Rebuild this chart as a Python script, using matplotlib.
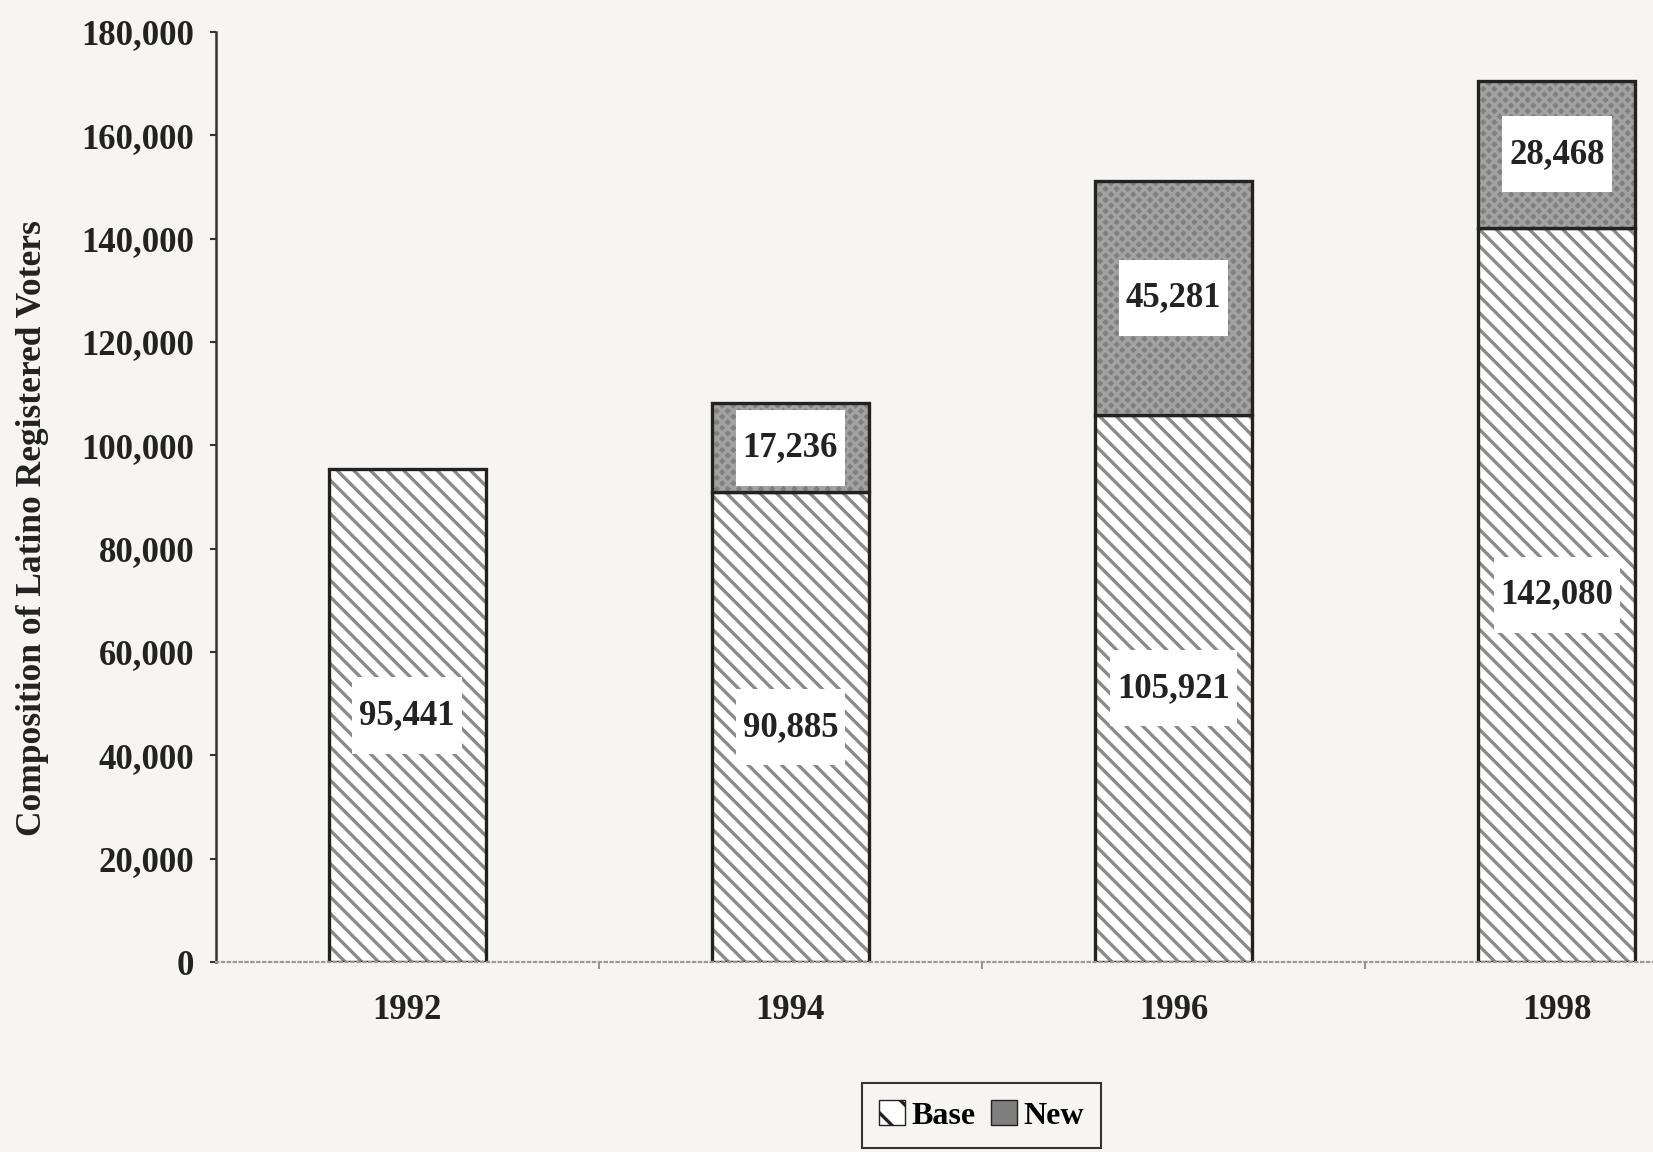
import matplotlib

matplotlib.use("Agg")

import matplotlib.pyplot as plt
import numpy as np
from matplotlib.patches import Patch
from matplotlib.path import Path
from matplotlib.ticker import FuncFormatter, MultipleLocator

# Registered voter counts by election year
years = ["1992", "1994", "1996", "1998"]
base_voters = [95441, 90885, 105921, 142080]
new_voters = [0, 17236, 45281, 28468]

plt.rcParams["font.family"] = ["Liberation Serif", "DejaVu Serif"]
plt.rcParams["font.weight"] = "bold"
plt.rcParams["hatch.linewidth"] = 2.4

PAPER = "#f6f5f1"
INK = "#222222"


def label_box(x0, y0, width, height, mutation_size):
    """Plain rectangle with more padding above/below than at the sides."""
    px = 0.2 * mutation_size
    py = 0.62 * mutation_size
    verts = [
        (x0 - px, y0 - py),
        (x0 + width + px, y0 - py),
        (x0 + width + px, y0 + height + py),
        (x0 - px, y0 + height + py),
        (x0 - px, y0 - py),
    ]
    return Path(verts, closed=True)


fig = plt.figure(figsize=(16.53, 11.52), dpi=100, facecolor=PAPER)
ax = fig.add_axes([0.1304, 0.1649, 0.9274, 0.8073])
ax.set_facecolor("none")

x = np.arange(len(years))
width = 0.41
base = np.array(base_voters)
new = np.array(new_voters)
has_new = new > 0

# Base segment: diagonal hatch on white
ax.bar(x, base, width, color="white", edgecolor="#8a8a8a", hatch="\\\\", linewidth=0)
ax.bar(x, base, width, fill=False, edgecolor=INK, linewidth=2.4)

# New segment: mottled grey on top of base
ax.bar(x[has_new], new[has_new], width, bottom=base[has_new], color="#7f7f7f",
       edgecolor="#a2a2a2", hatch="xxx", linewidth=0)
ax.bar(x[has_new], new[has_new], width, bottom=base[has_new], fill=False,
       edgecolor=INK, linewidth=2.4)

box_props = dict(boxstyle=label_box, facecolor="white", edgecolor="none")
for xi, b, n in zip(x, base, new):
    ax.text(xi, b / 2, f"{b:,}", ha="center", va="center", fontsize=25,
            color=INK, bbox=box_props)
    if n > 0:
        ax.text(xi, b + n / 2, f"{n:,}", ha="center", va="center", fontsize=25,
                color=INK, bbox=box_props)

ax.set_xlim(-0.5, len(years) - 0.5)
ax.set_ylim(0, 180000)

ax.yaxis.set_major_locator(MultipleLocator(20000))
ax.yaxis.set_major_formatter(FuncFormatter(lambda v, _: f"{v:,.0f}"))
ax.tick_params(axis="y", direction="out", length=4.5, width=1.5, color="#333333",
               pad=11, labelsize=25, labelcolor=INK)

ax.set_xticks(x)
ax.set_xticklabels(years)
ax.set_xticks(x[:-1] + 0.5, minor=True)
ax.tick_params(axis="x", which="major", length=0, pad=23, labelsize=25,
               labelcolor=INK)
ax.tick_params(axis="x", which="minor", direction="out", length=5, width=1.3,
               color="#8a8a8a")

for side in ("top", "right"):
    ax.spines[side].set_visible(False)
ax.spines["left"].set_color("#333333")
ax.spines["left"].set_linewidth(1.8)
ax.spines["bottom"].set_color("#9a9a9a")
ax.spines["bottom"].set_linewidth(1.6)
ax.spines["bottom"].set_linestyle(":")

fig.text(0.0194, 0.5417, "Composition of Latino Registered Voters", rotation=90,
         ha="center", va="center", fontsize=25.5, color=INK)

handles = [
    Patch(facecolor="white", edgecolor=INK, hatch="\\"),
    Patch(facecolor="#7f7f7f", edgecolor=INK),
]
leg = fig.legend(handles, ["Base", "New"], loc="upper center",
                 bbox_to_anchor=(0.5937, 0.06), borderaxespad=0, ncol=2,
                 fontsize=23, frameon=True, fancybox=False, edgecolor="#333333",
                 facecolor=PAPER, framealpha=1, handlelength=0.8,
                 handleheight=0.8, handletextpad=0.2, columnspacing=0.5,
                 borderpad=0.55)
leg.get_frame().set_linewidth(1.5)

fig.savefig("out.png", dpi=100, facecolor=PAPER)
